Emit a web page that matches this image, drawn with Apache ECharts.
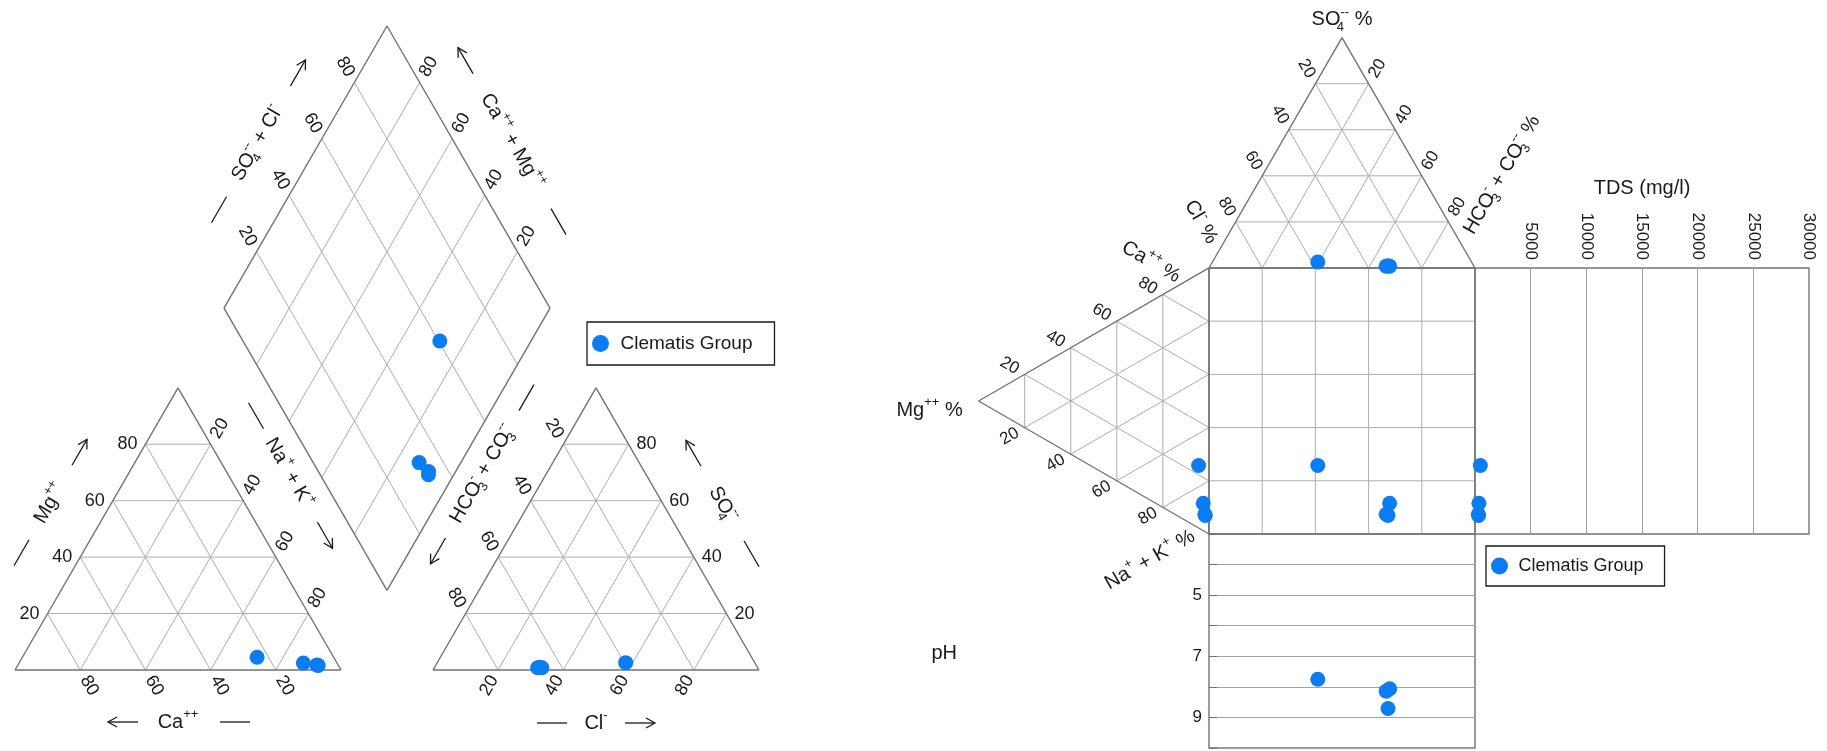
<!DOCTYPE html>
<html>
<head>
<meta charset="utf-8">
<title>Piper and Durov diagrams – Clematis Group</title>
<script src="https://cdn.jsdelivr.net/npm/echarts@6/dist/echarts.min.js"></script>
<style>
  html, body { margin: 0; padding: 0; background: #ffffff; }
  #chart { width: 1827px; height: 751px; }
</style>
</head>
<body>
<div id="chart"></div>
<script>
// ---------------------------------------------------------------
// Clematis Group samples: ionic proportions (meq %), pH and TDS
// ---------------------------------------------------------------
const caPct   = [23.5, 10.3, 6.5, 6.2];
const mgPct   = [4.5, 2.5, 1.8, 1.6];
const naKPct  = [72.0, 87.2, 91.7, 92.2];
const hco3Pct = [39.6, 67.5, 66.2, 66.8];
const so4Pct  = [2.6, 0.8, 0.8, 1.0];
const clPct   = [57.8, 31.7, 33.0, 32.2];
const phValues  = [7.75, 8.06, 8.14, 8.71];
const tdsValues = [480, 350, 300, 320];

const percentTicks = [20, 40, 60, 80];
const phLabelTicks = [5, 7, 9];
const seriesName = 'Clematis Group';

// ---------------------------------------------------------------
// styling
// ---------------------------------------------------------------
const FONT = '"Liberation Sans", Arial, Helvetica, sans-serif';
const TEXT_COLOR = '#1a1a1a';
const OUTLINE = '#727272';
const GRIDLINE = '#adadad';
const DOT = '#0b7cf2';
const LABEL_GAP = 8;

// ---------------------------------------------------------------
// geometry helpers (triangle side = 100 units)
// ---------------------------------------------------------------
const S3 = Math.sqrt(3) / 2;
const PIPER_GAP = 28.2;
const PIPER_W = 200 + PIPER_GAP;
const PIPER_H = PIPER_W * S3;
const DUROV_T = 100 * S3;

function cationXY(ca, mg, na) { return [na + mg / 2, mg * S3]; }
function anionXY(hco3, so4, cl) { return [100 + PIPER_GAP + cl + so4 / 2, so4 * S3]; }
function diamondXY(catSum, anSum) {
  const bx = 100 + PIPER_GAP / 2, by = PIPER_GAP * S3;
  return [bx + (anSum - catSum) * 0.5, by + (anSum + catSum) * S3];
}
function durovTop(hco3, so4, cl) { return [hco3 + so4 / 2, 100 + so4 * S3]; }
function durovLeft(ca, mg, na) { return [-mg * S3, 100 - (na + mg / 2)]; }

function seg(list, a, b, outline) { list.push([a[0], a[1], b[0], b[1], outline ? 1 : 0]); }
function poly(list, pts) {
  for (let i = 0; i < pts.length; i++) seg(list, pts[i], pts[(i + 1) % pts.length], true);
}

// ---------------- Piper frame ----------------
const piperSegs = [];
percentTicks.forEach(t => {
  seg(piperSegs, cationXY(100 - t, t, 0), cationXY(0, t, 100 - t));
  seg(piperSegs, cationXY(t, 0, 100 - t), cationXY(t, 100 - t, 0));
  seg(piperSegs, cationXY(100 - t, 0, t), cationXY(0, 100 - t, t));
  seg(piperSegs, anionXY(100 - t, t, 0), anionXY(0, t, 100 - t));
  seg(piperSegs, anionXY(t, 0, 100 - t), anionXY(t, 100 - t, 0));
  seg(piperSegs, anionXY(100 - t, 0, t), anionXY(0, 100 - t, t));
  seg(piperSegs, diamondXY(0, t), diamondXY(100, t));
  seg(piperSegs, diamondXY(t, 0), diamondXY(t, 100));
});
poly(piperSegs, [cationXY(100, 0, 0), cationXY(0, 0, 100), cationXY(0, 100, 0)]);
poly(piperSegs, [anionXY(100, 0, 0), anionXY(0, 0, 100), anionXY(0, 100, 0)]);
poly(piperSegs, [diamondXY(0, 0), diamondXY(0, 100), diamondXY(100, 100), diamondXY(100, 0)]);

const piperLabels = [];
percentTicks.forEach(t => {
  const s = String(t);
  piperLabels.push({ pos: cationXY(100 - t, t, 0), text: s, rot: 0, align: 'right' });
  piperLabels.push({ pos: cationXY(t, 0, 100 - t), text: s, rot: -60, align: 'left' });
  piperLabels.push({ pos: cationXY(0, 100 - t, t), text: s, rot: 60, align: 'left' });
  piperLabels.push({ pos: anionXY(0, t, 100 - t), text: s, rot: 0, align: 'left' });
  piperLabels.push({ pos: anionXY(100 - t, 0, t), text: s, rot: 60, align: 'right' });
  piperLabels.push({ pos: anionXY(t, 100 - t, 0), text: s, rot: -60, align: 'right' });
  piperLabels.push({ pos: diamondXY(100, t), text: s, rot: -60, align: 'right' });
  piperLabels.push({ pos: diamondXY(t, 100), text: s, rot: 60, align: 'left' });
});

const piperTitles = [
  { pos: cationXY(50, 50, 0), off: [-46.5, -25.5], rot: 60, text: '{n|Mg}{sup|++}', arrowSide: 1, dashAt: 57, arrowAt: 59 },
  { pos: cationXY(0, 50, 50), off: [29.5, -56], rot: -60, text: '{n|Na}{sup|+}{n| + K}{sup|+}', arrowSide: 1, dashAt: 66, arrowAt: 72 },
  { pos: cationXY(50, 0, 50), off: [0, 52], rot: 0, text: '{n|Ca}{sup|++}', arrowSide: -1, dashAt: 57, arrowAt: 55 },
  { pos: anionXY(50, 0, 50), off: [0, 53], rot: 0, text: '{n|Cl}{sup|-}', arrowSide: 1, dashAt: 44, arrowAt: 44 },
  { pos: anionXY(0, 50, 50), off: [45.5, -24.5], rot: -60, text: '{n|SO}{subz|4}{sup|--}', arrowSide: -1, dashAt: 57, arrowAt: 59 },
  { pos: anionXY(50, 50, 0), off: [-32, -55], rot: 60, text: '{n|HCO}{subz|3}{sup|-}{n| + CO}{subz|3}{sup|--}', arrowSide: -1, dashAt: 88, arrowAt: 89 },
  { pos: diamondXY(100, 50), off: [-48, -24], rot: 60, text: '{n|SO}{subz|4}{sup|--}{n| + Cl}{sup|-}', arrowSide: 1, dashAt: 77, arrowAt: 81 },
  { pos: diamondXY(50, 100), off: [43.5, -26], rot: -60, text: '{n|Ca}{sup|++}{n| + Mg}{sup|++}', arrowSide: -1, dashAt: 93, arrowAt: 93 }
];

// ---------------- Durov frame ----------------
const durovSegs = [];
percentTicks.forEach(t => {
  seg(durovSegs, durovTop(100 - t, t, 0), durovTop(0, t, 100 - t));
  seg(durovSegs, durovTop(100 - t, 0, t), durovTop(0, 100 - t, t));
  seg(durovSegs, durovTop(t, 0, 100 - t), durovTop(t, 100 - t, 0));
  seg(durovSegs, durovLeft(100 - t, t, 0), durovLeft(0, t, 100 - t));
  seg(durovSegs, durovLeft(t, 100 - t, 0), durovLeft(t, 0, 100 - t));
  seg(durovSegs, durovLeft(0, 100 - t, t), durovLeft(100 - t, 0, t));
  seg(durovSegs, [t, 0], [t, 100]);
  seg(durovSegs, [0, t], [100, t]);
});
poly(durovSegs, [durovTop(0, 0, 100), durovTop(100, 0, 0), durovTop(0, 100, 0)]);
poly(durovSegs, [durovLeft(100, 0, 0), durovLeft(0, 100, 0), durovLeft(0, 0, 100)]);
poly(durovSegs, [[0, 0], [100, 0], [100, 100], [0, 100]]);

const durovLabels = [];
percentTicks.forEach(t => {
  const s = String(t);
  durovLabels.push({ pos: durovTop(0, 100 - t, t), text: s, rot: -60, align: 'right' });
  durovLabels.push({ pos: durovTop(t, 100 - t, 0), text: s, rot: 60, align: 'left' });
  durovLabels.push({ pos: durovLeft(t, 100 - t, 0), text: s, rot: -30, align: 'right' });
  durovLabels.push({ pos: durovLeft(0, 100 - t, t), text: s, rot: 30, align: 'right' });
});

const durovTitles = [
  { pos: durovTop(0, 100, 0), off: [0, -18], rot: 0, text: '{n|SO}{subz|4}{sup|--}{n| %}' },
  { pos: durovTop(0, 0, 100), off: [-8, -46], rot: -60, text: '{n|Cl}{sup|-}{n| %}' },
  { pos: durovTop(100, 0, 0), off: [27, -93], rot: 60, text: '{n|HCO}{subz|3}{sup|-}{n| + CO}{subz|3}{sup|--}{n| %}' },
  { pos: durovLeft(100, 0, 0), off: [-58, -6], rot: -30, text: '{n|Ca}{sup|++}{n| %}' },
  { pos: durovLeft(0, 0, 100), off: [-59, 26], rot: 30, text: '{n|Na}{sup|+}{n| + K}{sup|+}{n| %}' },
  { pos: durovLeft(0, 100, 0), off: [-49, 9], rot: 0, text: '{n|Mg}{sup|++}{n| %}' }
];

// ---------------------------------------------------------------
// renderers
// ---------------------------------------------------------------
function chemRich(size) {
  const small = Math.round(size * 0.64);
  const f = small + 'px ' + FONT;
  return {
    n: { font: size + 'px ' + FONT, fill: TEXT_COLOR, lineHeight: size + 8 },
    sup: { font: f, fill: TEXT_COLOR, verticalAlign: 'top' },
    sub: { font: f, fill: TEXT_COLOR, verticalAlign: 'bottom' },
    subz: { font: f, fill: TEXT_COLOR, verticalAlign: 'bottom', width: 0 }
  };
}

function renderSegment(params, api) {
  const a = api.coord([api.value(0), api.value(1)]);
  const b = api.coord([api.value(2), api.value(3)]);
  const outline = api.value(4) === 1;
  return {
    type: 'line',
    shape: { x1: a[0], y1: a[1], x2: b[0], y2: b[1] },
    style: { stroke: outline ? OUTLINE : GRIDLINE, lineWidth: outline ? 1.4 : 1 },
    z2: outline ? 2 : 1,
    silent: true
  };
}

function labelRenderer(labels, size) {
  return function (params, api) {
    const L = labels[params.dataIndex];
    const p = api.coord(L.pos);
    const r = L.rot * Math.PI / 180;
    const dx = Math.cos(r), dy = -Math.sin(r);
    const s = L.align === 'left' ? 1 : -1;
    return {
      type: 'text',
      x: p[0] + s * LABEL_GAP * dx,
      y: p[1] + s * LABEL_GAP * dy,
      rotation: r,
      style: { text: L.text, fill: TEXT_COLOR, font: size + 'px ' + FONT, align: L.align, verticalAlign: 'middle' },
      silent: true
    };
  };
}

function titleRenderer(titles, size) {
  const rich = chemRich(size);
  return function (params, api) {
    const T = titles[params.dataIndex];
    const p = api.coord(T.pos);
    const cx = p[0] + T.off[0], cy = p[1] + T.off[1];
    const r = T.rot * Math.PI / 180;
    const dx = Math.cos(r), dy = -Math.sin(r);
    const children = [{
      type: 'text', x: cx, y: cy, rotation: r,
      style: { text: T.text, rich: rich, fill: TEXT_COLOR, font: size + 'px ' + FONT, align: 'center', verticalAlign: 'middle' }
    }];
    if (T.arrowSide) {
      const half = 15;
      const stroke = { stroke: TEXT_COLOR, lineWidth: 1.3, fill: null };
      // plain dash on the side opposite to the arrow
      const ds = -T.arrowSide;
      const mx = cx + ds * T.dashAt * dx, my = cy + ds * T.dashAt * dy;
      children.push({ type: 'line', shape: { x1: mx - half * dx, y1: my - half * dy, x2: mx + half * dx, y2: my + half * dy }, style: stroke });
      // arrow pointing away from the text
      const ax = T.arrowSide * dx, ay = T.arrowSide * dy;
      const acx = cx + T.arrowAt * ax, acy = cy + T.arrowAt * ay;
      const tx = acx + half * ax, ty = acy + half * ay;
      const nx = -ay, ny = ax;
      children.push({ type: 'line', shape: { x1: acx - half * ax, y1: acy - half * ay, x2: tx, y2: ty }, style: stroke });
      children.push({ type: 'polyline', shape: { points: [[tx - 9 * ax + 5 * nx, ty - 9 * ay + 5 * ny], [tx, ty], [tx - 9 * ax - 5 * nx, ty - 9 * ay - 5 * ny]] }, style: stroke });
    }
    return { type: 'group', children: children, silent: true };
  };
}

// ---------------------------------------------------------------
// sample positions in each panel
// ---------------------------------------------------------------
const idx = caPct.map((_, i) => i);
const cationPts = idx.map(i => cationXY(caPct[i], mgPct[i], naKPct[i]));
const anionPts = idx.map(i => anionXY(hco3Pct[i], so4Pct[i], clPct[i]));
const diamondPts = idx.map(i => diamondXY(caPct[i] + mgPct[i], so4Pct[i] + clPct[i]));
const durovTopPts = idx.map(i => durovTop(hco3Pct[i], so4Pct[i], clPct[i]));
const durovLeftPts = idx.map(i => durovLeft(caPct[i], mgPct[i], naKPct[i]));
const durovSquarePts = idx.map(i => [hco3Pct[i] + so4Pct[i] / 2, 100 - (naKPct[i] + mgPct[i] / 2)]);
const tdsPts = idx.map(i => [tdsValues[i], naKPct[i] + mgPct[i] / 2]);
const phPts = idx.map(i => [hco3Pct[i] + so4Pct[i] / 2, phValues[i]]);

function dots(data, axisIndex) {
  return {
    type: 'scatter', name: seriesName, data: data,
    xAxisIndex: axisIndex, yAxisIndex: axisIndex,
    symbol: 'circle', symbolSize: 15, clip: false, silent: true, z: 5,
    itemStyle: { color: DOT, opacity: 1 },
    emphasis: { disabled: true }
  };
}

function frameSeries(segs, axisIndex) {
  return {
    type: 'custom', data: segs, renderItem: renderSegment,
    xAxisIndex: axisIndex, yAxisIndex: axisIndex,
    encode: { x: [0, 2], y: [1, 3] }, silent: true, z: 1
  };
}

function textSeries(list, renderer, axisIndex) {
  return {
    type: 'custom', data: list.map(l => l.pos), renderItem: renderer,
    xAxisIndex: axisIndex, yAxisIndex: axisIndex, silent: true, z: 2
  };
}

// ---------------------------------------------------------------
// chart
// ---------------------------------------------------------------
const chart = echarts.init(document.getElementById('chart'), null, { renderer: 'canvas' });

const hiddenAxis = (grid, min, max, extra) => Object.assign({ gridIndex: grid, type: 'value', min: min, max: max, show: false }, extra || {});

const option = {
  animation: false,
  backgroundColor: '#ffffff',
  textStyle: { fontFamily: FONT },
  grid: [
    { left: 15, top: 26, width: 744, height: 644, outerBoundsMode: 'none' },
    { left: 978.6, top: 37.6, width: 496.4, height: 496.4, outerBoundsMode: 'none' },
    { left: 1475, top: 268, width: 334, height: 266, show: true, borderColor: OUTLINE, borderWidth: 1.4, outerBoundsMode: 'none' },
    { left: 1209, top: 534, width: 266, height: 214, show: true, borderColor: OUTLINE, borderWidth: 1.4, outerBoundsMode: 'none' }
  ],
  xAxis: [
    hiddenAxis(0, 0, PIPER_W),
    hiddenAxis(1, -DUROV_T, 100),
    {
      gridIndex: 2, type: 'value', min: 0, max: 30000, interval: 5000, position: 'top',
      name: 'TDS (mg/l)', nameLocation: 'middle', nameGap: 70, nameMoveOverlap: false,
      nameTextStyle: { fontSize: 20, color: TEXT_COLOR, fontFamily: FONT },
      axisLine: { show: false }, axisTick: { show: false },
      axisLabel: { rotate: -90, fontSize: 17, color: TEXT_COLOR, fontFamily: FONT, margin: 8,
        formatter: v => (v === 0 ? '' : String(v)) },
      splitLine: { show: true, lineStyle: { color: '#a2a2a2', width: 1 } }
    },
    hiddenAxis(3, 0, 100)
  ],
  yAxis: [
    hiddenAxis(0, 0, PIPER_H),
    hiddenAxis(1, 0, 100 + DUROV_T),
    hiddenAxis(2, 0, 100, { inverse: true }),
    {
      gridIndex: 3, type: 'value', min: 3, max: 10, interval: 1, inverse: true,
      name: 'pH', nameLocation: 'middle', nameRotate: 0, nameGap: 252, nameMoveOverlap: false,
      nameTextStyle: { fontSize: 20, color: TEXT_COLOR, fontFamily: FONT, verticalAlign: 'top', padding: [2, 0, 0, 0] },
      axisLine: { show: false },
      axisTick: { show: true, inside: true, length: 8, lineStyle: { color: OUTLINE } },
      axisLabel: { fontSize: 17, color: TEXT_COLOR, fontFamily: FONT, margin: 7,
        formatter: v => (phLabelTicks.indexOf(v) >= 0 ? String(v) : '') },
      splitLine: { show: true, lineStyle: { color: '#a2a2a2', width: 1 } }
    }
  ],
  legend: [
    {
      data: [seriesName], left: 587, top: 322, orient: 'horizontal',
      padding: [12, 22, 12, 5], itemWidth: 30, itemHeight: 17, icon: 'circle',
      borderColor: '#1a1a1a', borderWidth: 1.3, selectedMode: false,
      textStyle: { fontSize: 19, color: TEXT_COLOR, fontFamily: FONT }
    },
    {
      data: [seriesName], left: 1486, top: 546, orient: 'horizontal',
      padding: [11, 21, 11, 5], itemWidth: 28, itemHeight: 17, icon: 'circle',
      borderColor: '#1a1a1a', borderWidth: 1.3, selectedMode: false,
      textStyle: { fontSize: 18, color: TEXT_COLOR, fontFamily: FONT }
    }
  ],
  series: [
    frameSeries(piperSegs, 0),
    textSeries(piperLabels, labelRenderer(piperLabels, 18), 0),
    textSeries(piperTitles, titleRenderer(piperTitles, 20), 0),
    dots(cationPts, 0),
    dots(anionPts, 0),
    dots(diamondPts, 0),

    frameSeries(durovSegs, 1),
    textSeries(durovLabels, labelRenderer(durovLabels, 17), 1),
    textSeries(durovTitles, titleRenderer(durovTitles, 20), 1),
    dots(durovTopPts, 1),
    dots(durovLeftPts, 1),
    dots(durovSquarePts, 1),

    dots(tdsPts, 2),
    dots(phPts, 3)
  ]
};

chart.setOption(option);
</script>
</body>
</html>
